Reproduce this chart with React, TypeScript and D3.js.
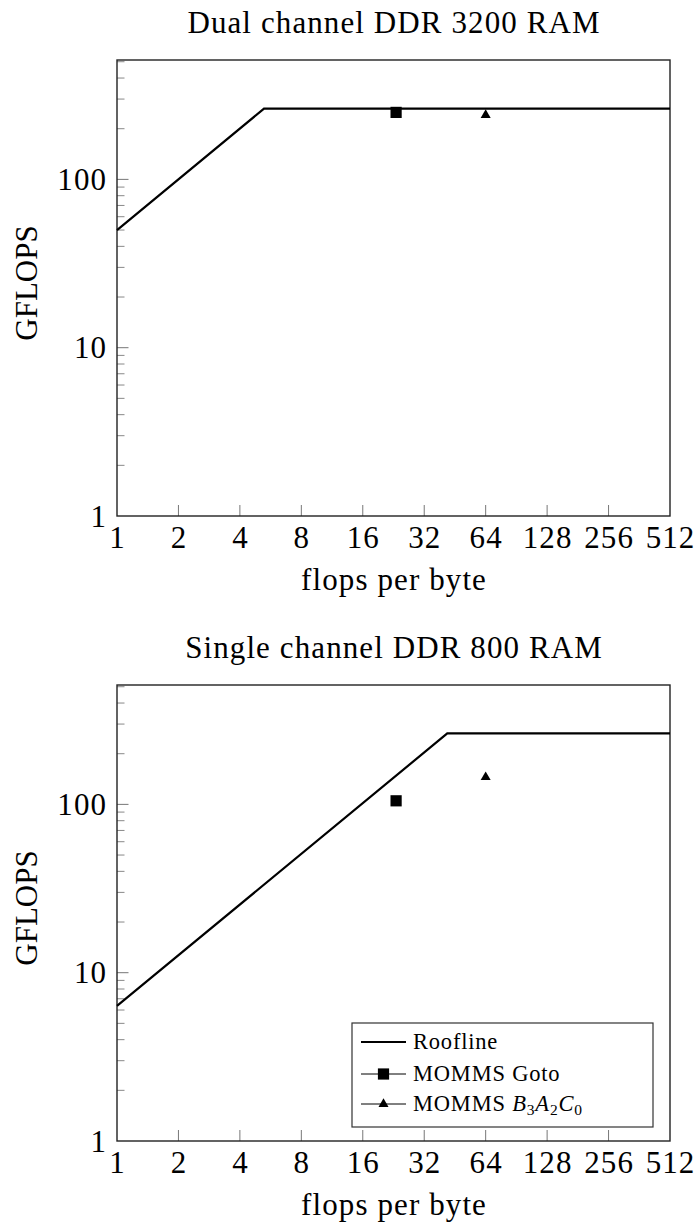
import React from "react";
import * as d3 from "d3";

const flopsTicks = [1, 2, 4, 8, 16, 32, 64, 128, 256, 512];
const gflopsTicks = [1, 10, 100];
const panelTitles = ["Dual channel DDR 3200 RAM", "Single channel DDR 800 RAM"];
const xLabel = "flops per byte";
const yLabel = "GFLOPS";

const rooflineDualX = [1, 5.25, 512];
const rooflineDualY = [50, 263, 263];
const rooflineSingleX = [1, 41.5, 512];
const rooflineSingleY = [6.35, 264, 264];

const gotoX = [23.3];
const gotoDualY = [250];
const gotoSingleY = [105];

const b3a2c0X = [64];
const b3a2c0DualY = [241];
const b3a2c0SingleY = [145];

const legendLabels = ["Roofline", "MOMMS Goto", "MOMMS B3A2C0"];

const W = 696;
const H = 1224;
const FONT = "'Liberation Serif', 'Times New Roman', serif";

type PanelProps = {
  top: number;
  title: string;
  rx: number[];
  ry: number[];
  gx: number[];
  gy: number[];
  tx: number[];
  ty: number[];
  legend: boolean;
};

function triPath(cx: number, cy: number, r: number) {
  const h = r * Math.sqrt(3) / 2;
  return `M${cx},${cy - r}L${cx + h},${cy + r / 2}L${cx - h},${cy + r / 2}Z`;
}

function Panel({ top, title, rx, ry, gx, gy, tx, ty, legend }: PanelProps) {
  const left = 117;
  const right = 670;
  const bottom = top + 456;
  const x = d3.scaleLog().base(2).domain([1, 512]).range([left, right]);
  const y = d3.scaleLog().base(10).domain([1, 512]).range([bottom, top]);
  const minor: number[] = [];
  for (const dec of [1, 10, 100]) {
    for (let k = 2; k <= 9; k++) {
      const v = dec * k;
      if (v <= 512) minor.push(v);
    }
  }
  const line = d3
    .line<number>()
    .x((_, i) => x(rx[i]))
    .y((d) => y(d));
  const lx = 352;
  const ly = top + 338;
  const rows = [ly + 19, ly + 51, ly + 81];
  const ls = 1.1;
  return (
    <g>
      <text x={(left + right) / 2 + ls / 2} y={top - 27} textAnchor="middle" fontSize={31} fontFamily={FONT} letterSpacing={ls}>
        {title}
      </text>
      {/* ticks */}
      {flopsTicks.slice(1, -1).map((t) => (
        <line key={"xt" + t} x1={x(t)} x2={x(t)} y1={bottom} y2={bottom - 11} stroke="#777" strokeWidth={1} />
      ))}
      {minor.map((t) => (
        <line key={"ym" + t} x1={left} x2={left + 7.5} y1={y(t)} y2={y(t)} stroke="#888" strokeWidth={1} />
      ))}
      {gflopsTicks.slice(1).map((t) => (
        <line key={"yt" + t} x1={left} x2={left + 11.5} y1={y(t)} y2={y(t)} stroke="#777" strokeWidth={1} />
      ))}
      {/* frame */}
      <rect x={left} y={top} width={right - left} height={bottom - top} fill="none" stroke="#222" strokeWidth={1.4} />
      {/* tick labels */}
      {flopsTicks.map((t) => (
        <text key={"xl" + t} x={x(t) + ls / 2} y={bottom + 32} textAnchor="middle" fontSize={31} fontFamily={FONT} letterSpacing={ls}>
          {t}
        </text>
      ))}
      {gflopsTicks.map((t) => (
        <text key={"yl" + t} x={106 + ls} y={y(t) + 10.5} textAnchor="end" fontSize={31} fontFamily={FONT} letterSpacing={ls}>
          {t}
        </text>
      ))}
      <text x={(left + right) / 2 + ls / 2} y={bottom + 74} textAnchor="middle" fontSize={31} fontFamily={FONT} letterSpacing={ls}>
        {xLabel}
      </text>
      <text
        transform={`translate(37,${(top + bottom) / 2 - 5}) rotate(-90)`}
        textAnchor="middle"
        fontSize={31}
        fontFamily={FONT}
      >
        {yLabel}
      </text>
      {/* roofline */}
      <path d={line(ry) || ""} fill="none" stroke="#000" strokeWidth={2.2} strokeLinejoin="miter" />
      {/* goto squares */}
      {gx.map((v, i) => (
        <rect key={"g" + i} x={x(v) - 5.6} y={y(gy[i]) - 5.6} width={11.2} height={11.2} fill="#000" />
      ))}
      {/* triangles */}
      {tx.map((v, i) => (
        <path key={"t" + i} d={triPath(x(v), y(ty[i]), 5.8)} fill="#000" />
      ))}
      {legend && (
        <g>
          <rect x={lx} y={ly} width={301} height={104} fill="#fff" stroke="#333" strokeWidth={1.2} />
          <line x1={lx + 9} x2={lx + 54} y1={rows[0]} y2={rows[0]} stroke="#000" strokeWidth={2.2} />
          <line x1={lx + 9} x2={lx + 54} y1={rows[1]} y2={rows[1]} stroke="#000" strokeWidth={1} />
          <rect x={lx + 31.5 - 5.6} y={rows[1] - 5.6} width={11.2} height={11.2} fill="#000" />
          <line x1={lx + 9} x2={lx + 54} y1={rows[2]} y2={rows[2]} stroke="#000" strokeWidth={1} />
          <path d={triPath(lx + 31.5, rows[2], 5.8)} fill="#000" />
          <text x={lx + 61} y={rows[0] + 7} fontSize={22.5} fontFamily={FONT} letterSpacing={0.8}>
            {legendLabels[0]}
          </text>
          <text x={lx + 61} y={rows[1] + 7} fontSize={22.5} fontFamily={FONT} letterSpacing={0.8}>
            {legendLabels[1]}
          </text>
          <text x={lx + 61} y={rows[2] + 7} fontSize={22.5} fontFamily={FONT} letterSpacing={0.8}>
            <tspan>{legendLabels[2].split(" ")[0] + " "}</tspan>
            <tspan fontStyle="italic">B</tspan>
            <tspan fontSize={15.5} dy={4}>3</tspan>
            <tspan fontStyle="italic" dy={-4}>A</tspan>
            <tspan fontSize={15.5} dy={4}>2</tspan>
            <tspan fontStyle="italic" dy={-4}>C</tspan>
            <tspan fontSize={15.5} dy={4}>0</tspan>
          </text>
        </g>
      )}
    </g>
  );
}

export default function App() {
  return (
    <div style={{ position: "absolute", left: 0, top: 0 }}>
      <svg width={W} height={H} viewBox={`0 0 ${W} ${H}`} style={{ display: "block", background: "#fff" }}>
        <rect width={W} height={H} fill="#fff" />
        <Panel
          top={60}
          title={panelTitles[0]}
          rx={rooflineDualX}
          ry={rooflineDualY}
          gx={gotoX}
          gy={gotoDualY}
          tx={b3a2c0X}
          ty={b3a2c0DualY}
          legend={false}
        />
        <Panel
          top={685}
          title={panelTitles[1]}
          rx={rooflineSingleX}
          ry={rooflineSingleY}
          gx={gotoX}
          gy={gotoSingleY}
          tx={b3a2c0X}
          ty={b3a2c0SingleY}
          legend={true}
        />
      </svg>
    </div>
  );
}
